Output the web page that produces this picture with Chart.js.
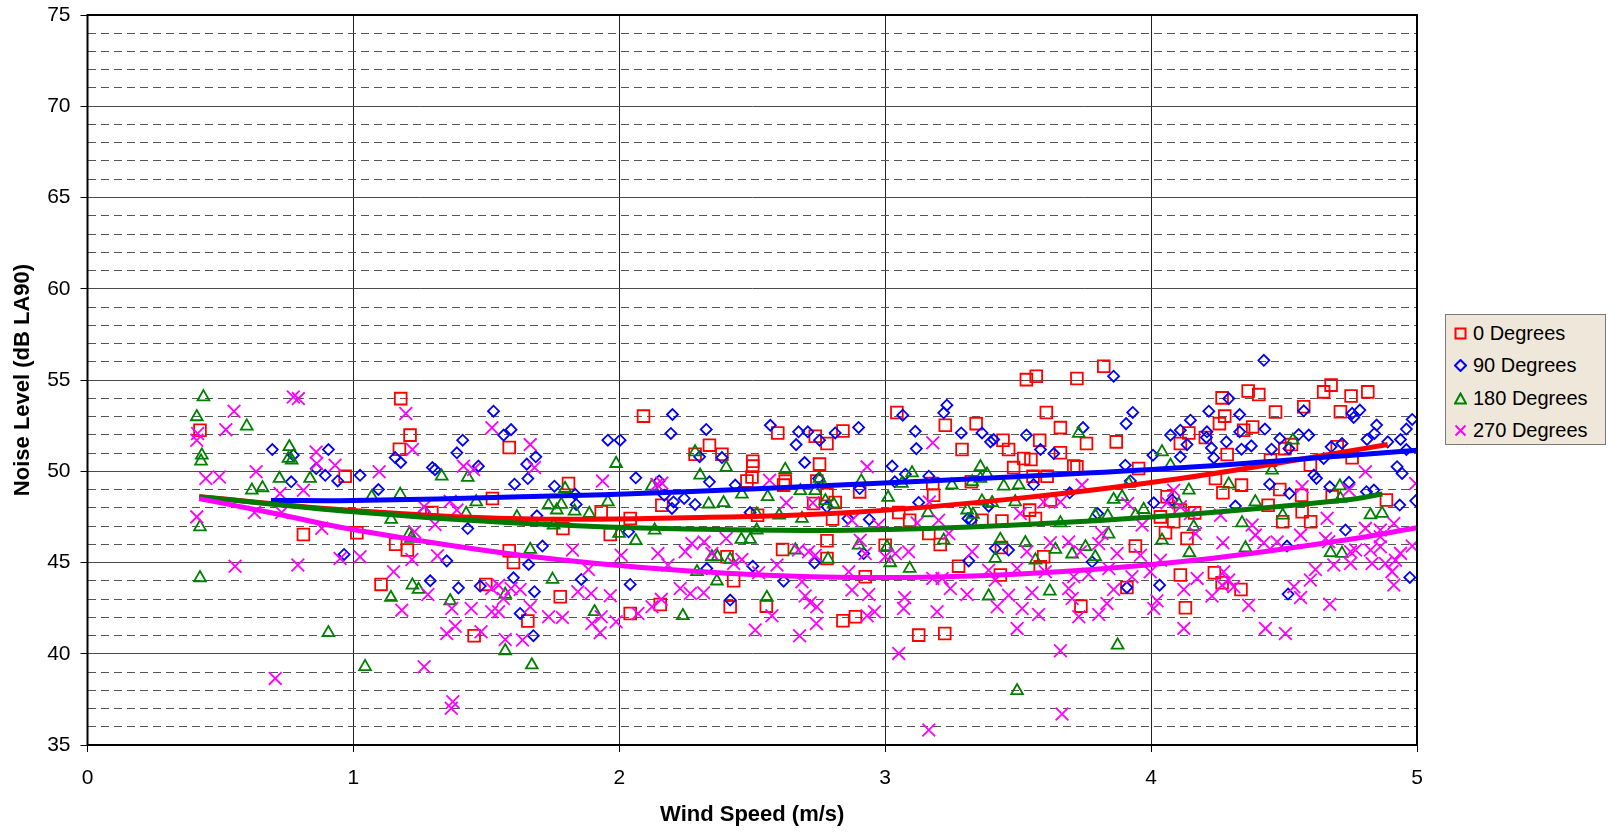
<!DOCTYPE html>
<html>
<head>
<meta charset="utf-8">
<title>Noise Level vs Wind Speed</title>
<script src="https://cdn.jsdelivr.net/npm/chart.js@4.4.1/dist/chart.umd.min.js"></script>
<style>
    html, body { margin: 0; padding: 0; background: #fff; }
    #wrap { position: relative; width: 1614px; height: 833px; }
    #legend {
        position: absolute; left: 1445px; top: 314px; width: 161px; height: 131px;
        box-sizing: border-box; background: #EEE7DA; border: 1px solid #7a7a7a;
        padding-top: 2px; font-family: "Liberation Sans", Arial, sans-serif; font-size: 20px; color: #000;
    }
    #legend .row { height: 32.5px; display: flex; align-items: center; }
    #legend svg { margin-left: 8px; margin-right: 6px; flex: none; }
</style>
</head>
<body>
<div id="wrap">
    <canvas id="noiseChart" width="1614" height="833"></canvas>
    <div id="legend"></div>
</div>
<script>
// Measured points [wind speed m/s, dB LA90] per wind direction
const deg0 = [
    [0.423,52.25],[0.969,49.73],[0.812,46.53],
    [1.178,53.98],[1.213,51.98],[1.173,51.21],[1.586,51.3],[1.523,48.51],[1.295,47.74],[1.013,46.63],[1.159,46.0],[1.203,45.68],[1.586,45.64],[1.602,45.0],[1.104,43.8],[1.498,43.8],[1.454,40.99],
    [2.091,53.02],[1.809,49.33],[1.932,47.78],[2.041,47.41],[2.16,48.14],[1.788,46.86],[1.966,46.53],[1.778,43.12],[1.656,41.79],[2.041,42.21],[2.154,42.7],
    [2.339,51.43],[2.386,50.93],[2.285,50.93],[2.596,52.1],[2.737,51.92],[2.781,51.52],[2.841,52.21],[2.502,50.55],[2.502,50.28],[2.499,49.69],[2.48,49.47],[2.624,49.46],[2.618,49.24],[2.753,50.39],[2.743,49.46],[2.781,48.73],[2.812,48.29],[2.731,48.23],[2.802,47.38],[2.52,47.59],[2.781,46.19],[2.614,45.71],[2.405,45.31],[2.781,45.22],[2.43,44.0],[2.417,42.57],[2.553,42.61],[2.841,41.81],
    [3.044,53.22],[3.226,52.52],[3.342,52.61],[3.443,51.7],[3.464,51.19],[3.289,51.19],[3.179,49.33],[3.182,48.69],[3.324,49.42],[2.904,48.87],[3.051,47.74],[3.092,47.32],[3.164,46.59],[3.364,47.32],[3.439,47.27],[3.207,45.99],[3.0,45.95],[3.437,45.82],[3.276,44.8],[2.925,44.22],[3.433,44.31],[2.888,42.03],[3.126,41.02],[3.224,41.11],
    [3.531,55.02],[3.568,55.21],[3.721,55.08],[3.822,55.75],[3.606,53.22],[3.659,52.39],[3.581,51.7],[3.757,51.52],[3.869,51.61],[3.521,50.7],[3.548,50.64],[3.659,51.01],[3.709,50.28],[3.721,50.24],[3.483,50.2],[3.556,49.73],[3.609,49.73],[3.953,50.15],[3.621,48.42],[3.543,47.87],[3.565,47.41],[4.06,48.6],[4.035,47.5],[4.085,47.23],[4.054,46.63],[3.941,45.9],[3.596,45.31],[3.583,44.76],[3.909,43.63],[3.736,42.61],
    [4.267,54.02],[4.365,54.4],[4.405,54.2],[4.277,53.02],[4.257,52.61],[4.468,53.25],[4.574,53.53],[4.142,52.1],[4.11,51.52],[4.204,51.85],[4.348,52.25],[4.382,52.43],[4.286,50.92],[4.449,50.61],[4.503,51.24],[4.528,51.46],[4.242,49.6],[4.27,48.82],[4.34,49.24],[4.484,49.0],[4.566,48.69],[4.11,47.87],[4.164,47.72],[4.44,48.14],[4.495,47.23],[4.568,47.78],[4.6,47.23],[4.135,46.32],[4.11,44.31],[4.238,44.44],[4.267,43.89],[4.338,43.52],[4.129,42.52],
    [4.649,54.35],[4.677,54.72],[4.752,54.12],[4.815,54.35],[4.712,53.26],[4.7,51.34],[4.756,50.74],[4.599,50.34],[4.681,48.6],[4.885,48.42]
];
const deg90 = [
    [0.695,51.19],[0.906,51.19],[0.774,50.88],[0.86,50.15],[0.894,49.78],[0.941,49.47],[0.766,49.42],[0.965,45.44],
    [1.527,53.29],[1.565,51.98],[1.593,52.28],[1.411,51.7],[1.389,51.01],[1.157,50.75],[1.178,50.48],[1.297,50.2],[1.307,50.09],[1.47,50.28],[1.025,49.78],[1.094,49.0],[1.606,49.29],[1.266,47.78],[1.43,46.86],[1.351,45.09],[1.289,44.0],[1.395,43.61],[1.477,43.71],[1.602,44.16],
    [2.2,53.11],[2.194,52.07],[1.957,51.7],[2.003,51.7],[1.686,50.79],[1.652,50.39],[1.656,49.6],[1.756,49.18],[2.062,49.64],[2.15,49.47],[1.834,48.74],[1.838,48.18],[2.169,48.69],[2.204,48.32],[2.198,47.96],[1.69,47.56],[2.035,46.68],[1.711,45.9],[1.659,44.89],[1.857,44.07],[2.041,43.8],[1.681,43.4],[1.627,42.21],[1.677,40.99],
    [2.327,52.29],[2.568,52.52],[2.674,52.16],[2.709,52.16],[2.812,52.1],[2.665,51.46],[2.753,51.7],[2.302,50.79],[2.386,50.75],[2.697,50.48],[2.339,49.42],[2.436,49.24],[2.244,48.51],[2.285,48.18],[2.492,47.74],[2.749,49.6],[2.781,48.05],[2.329,44.67],[2.502,44.8],[2.734,44.98],[2.618,43.98],[2.417,42.94],
    [3.232,53.62],[3.22,53.2],[3.066,53.07],[2.9,52.4],[3.113,52.19],[3.117,51.24],[3.286,52.1],[3.364,52.1],[3.396,51.61],[3.408,51.74],[3.026,50.28],[3.076,49.84],[3.036,49.42],[3.164,49.73],[2.904,49.05],[3.126,48.29],[3.389,48.09],[3.311,47.41],[3.324,47.32],[2.94,47.36],[2.86,47.41],[3.414,45.77],[2.919,45.49],[3.464,45.68],[3.314,45.09],
    [3.859,55.21],[3.931,53.22],[3.906,52.61],[3.531,51.98],[3.744,52.39],[3.584,51.19],[3.634,50.97],[4.073,51.98],[4.007,50.88],[3.903,50.33],[3.558,49.27],[3.694,48.82],[3.922,49.47],[4.01,48.27],[4.079,48.42],[3.799,47.68],[3.778,45.04],[3.909,43.63],[4.032,43.76],
    [4.424,56.08],[4.292,53.98],[4.217,53.29],[4.148,52.8],[4.333,53.11],[4.574,53.31],[4.11,52.25],[4.21,52.16],[4.135,51.46],[4.208,51.85],[4.227,51.28],[4.283,51.61],[4.333,52.16],[4.377,51.39],[4.34,51.21],[4.428,52.31],[4.484,51.79],[4.453,51.21],[4.555,52.01],[4.593,51.98],[4.518,51.24],[4.11,50.79],[4.236,50.73],[4.446,49.29],[4.52,48.78],[4.317,48.09],[4.511,45.9],[4.515,43.27],
    [4.756,53.17],[4.762,52.95],[4.785,53.35],[4.848,52.53],[4.812,51.74],[4.84,52.07],[4.89,51.61],[4.938,51.74],[4.96,52.31],[4.982,52.84],[4.96,51.19],[4.649,50.7],[4.677,51.34],[4.718,51.52],[4.612,49.79],[4.622,49.61],[4.672,49.15],[4.744,49.39],[4.81,48.88],[4.838,48.97],[4.925,50.25],[4.944,49.88],[4.935,48.15],[4.995,48.38],[4.731,46.78],[4.973,44.18]
];
const deg180 = [
    [0.436,54.07],[0.411,52.98],[0.599,52.47],[0.43,50.88],[0.427,50.55],[0.759,51.34],[0.756,50.7],[0.768,50.6],[0.722,49.6],[0.837,49.6],[0.618,48.96],[0.658,49.09],[0.423,46.95],[0.423,44.16],[0.906,41.15],
    [1.332,49.73],[1.43,49.66],[1.069,48.6],[1.176,48.73],[1.462,48.32],[1.142,47.36],[1.424,47.68],[1.211,46.59],[1.217,46.32],[1.615,47.5],[1.222,43.76],[1.245,43.52],[1.141,43.08],[1.364,42.9],[1.571,43.25],[1.571,40.16],[1.044,39.29],
    [1.988,50.42],[1.796,49.05],[2.123,49.18],[1.734,48.14],[1.782,48.18],[1.765,47.87],[1.832,47.81],[1.887,47.68],[1.957,48.32],[1.753,47.05],[1.999,46.59],[2.062,46.19],[2.133,46.77],[1.665,45.71],[1.749,44.07],[1.907,42.3],[1.671,39.38],
    [2.285,51.06],[2.304,49.78],[2.402,50.2],[2.624,50.09],[2.753,49.6],[2.461,48.74],[2.558,48.6],[2.681,48.93],[2.737,48.93],[2.336,48.2],[2.392,48.27],[2.775,48.38],[2.806,48.2],[2.517,47.65],[2.601,47.59],[2.687,47.41],[2.517,46.77],[2.459,46.26],[2.492,46.26],[2.348,45.31],[2.369,45.31],[2.417,45.17],[2.662,45.68],[2.785,45.18],[2.292,44.49],[2.367,43.98],[2.555,43.08],[2.239,42.08],
    [3.358,50.24],[3.383,49.84],[3.101,49.91],[2.91,49.46],[3.063,49.33],[3.251,49.24],[3.327,49.42],[3.358,49.6],[3.446,49.18],[3.011,48.56],[3.364,48.36],[3.402,48.27],[3.308,47.87],[3.161,47.72],[3.33,47.63],[2.9,45.95],[3.433,46.26],[3.22,46.22],[3.007,45.86],[3.019,44.98],[3.092,44.67],[3.414,45.22],[3.389,43.16],
    [3.728,52.07],[4.041,51.06],[4.073,50.33],[3.502,49.24],[3.916,49.33],[3.489,48.32],[3.859,48.45],[3.891,48.6],[3.659,47.17],[3.79,47.59],[3.837,47.56],[3.941,47.59],[3.972,47.9],[3.84,46.55],[4.041,46.22],[3.527,46.08],[3.64,45.71],[3.703,45.46],[3.753,45.86],[3.79,45.31],[3.565,45.13],[3.619,43.43],[3.874,40.47],[3.496,37.97],
    [4.533,51.7],[4.455,50.06],[4.142,48.96],[4.292,49.29],[4.392,48.32],[4.104,48.2],[4.342,47.17],[4.495,47.59],[4.16,46.96],[4.355,45.8],[4.144,45.53],
    [4.71,49.19],[4.712,48.51],[4.825,47.6],[4.869,47.69],[4.675,45.54],[4.718,45.5]
];
const deg270 = [
    [0.774,54.07],[0.793,53.98],[0.551,53.29],[0.52,52.28],[0.414,52.07],[0.411,51.7],[0.445,49.6],[0.496,49.69],[0.634,49.97],[0.86,51.06],[0.862,50.42],[0.931,50.33],[0.812,48.96],[0.724,48.78],[0.628,47.74],[0.73,47.74],[0.411,47.5],[0.881,46.87],[0.555,44.8],[0.791,44.86],[0.95,45.22],[0.706,38.65],
    [1.197,53.16],[1.521,52.38],[1.222,51.19],[1.097,49.97],[1.414,50.28],[1.452,50.09],[1.364,48.36],[1.266,48.05],[1.389,47.87],[1.307,47.08],[1.23,46.68],[1.025,45.31],[1.22,45.17],[1.316,45.37],[1.151,44.49],[1.28,43.25],[1.182,42.39],[1.37,42.48],[1.443,42.48],[1.52,43.58],[1.546,43.76],[1.564,43.03],[1.593,43.58],[1.52,42.3],[1.546,42.3],[1.351,41.11],[1.383,41.51],[1.48,41.2],[1.571,40.78],[1.266,39.29],[1.374,37.37],[1.368,37.01],
    [1.665,51.46],[1.681,50.2],[1.937,49.46],[2.141,49.27],[2.16,49.36],[1.824,45.68],[2.007,45.4],[2.145,45.49],[2.183,44.86],[1.884,44.62],[1.627,43.52],[1.844,43.4],[1.894,43.3],[1.966,43.18],[2.229,43.58],[1.665,42.57],[1.734,42.03],[1.786,41.99],[1.897,41.66],[1.932,42.03],[1.928,41.15],[1.988,41.75],[2.07,42.21],[2.123,42.57],[2.158,42.98],[1.636,40.75],
    [2.565,49.51],[2.628,48.27],[2.728,48.27],[2.273,46.04],[2.319,46.13],[2.248,45.59],[2.402,46.32],[2.348,45.49],[2.461,45.17],[2.43,44.95],[2.524,44.44],[2.593,44.86],[2.674,45.68],[2.712,45.59],[2.737,45.4],[2.687,43.94],[2.699,43.16],[2.718,42.79],[2.743,42.57],[2.574,42.08],[2.741,41.66],[2.511,41.3],[2.678,40.99],[2.267,43.3],[2.317,43.34],
    [2.932,50.24],[3.179,51.56],[3.166,48.32],[3.12,47.17],[3.201,47.32],[3.239,46.59],[2.875,47.32],[2.975,47.05],[2.906,46.22],[2.925,45.49],[3.038,45.49],[3.088,45.59],[3.0,45.31],[3.327,45.59],[2.863,44.49],[2.875,43.49],[2.938,43.25],[3.179,44.13],[3.214,44.13],[3.245,43.58],[3.308,43.25],[3.389,44.58],[3.414,44.04],[3.464,43.21],[3.073,43.08],[3.069,42.48],[3.195,42.3],[3.421,42.57],[2.932,42.08],[2.96,42.3],[3.051,40.02],[3.164,35.82],
    [3.74,49.24],[3.596,48.32],[3.659,48.32],[3.912,48.23],[3.508,47.68],[4.06,48.27],[4.085,48.96],[3.966,47.05],[3.815,46.59],[3.621,46.08],[3.69,46.13],[3.533,45.59],[3.734,45.59],[3.803,46.04],[3.872,45.49],[3.96,45.4],[4.035,45.13],[3.496,44.67],[3.602,44.49],[3.709,44.22],[3.765,44.36],[3.841,44.67],[3.928,44.22],[3.997,44.49],[3.552,43.34],[3.69,43.58],[3.703,43.03],[3.859,43.52],[3.834,42.76],[4.022,42.9],[4.01,42.48],[3.515,42.48],[3.577,42.15],[3.728,42.03],[3.803,42.15],[3.496,41.39],[3.659,40.16],[3.665,36.7],
    [4.568,49.15],[4.11,48.05],[4.261,47.59],[4.148,47.68],[4.38,47.05],[4.392,46.5],[4.562,46.5],[4.167,46.59],[4.27,46.08],[4.424,46.08],[4.474,46.13],[4.173,44.13],[4.123,43.52],[4.229,43.16],[4.273,44.49],[4.292,44.04],[4.311,43.67],[4.267,43.76],[4.367,42.66],[4.537,43.67],[4.562,43.08],[4.123,41.39],[4.43,41.39],[4.505,41.11],
    [4.806,49.97],[4.995,49.33],[4.744,48.97],[4.662,47.42],[4.806,46.87],[4.913,47.14],[4.656,46.32],[4.668,46.14],[4.862,46.78],[4.862,46.41],[4.75,45.59],[4.769,45.68],[4.825,45.68],[4.862,45.86],[4.982,45.9],[4.938,45.5],[4.687,44.86],[4.75,44.95],[4.831,44.95],[4.881,44.95],[4.919,45.13],[4.906,44.5],[4.618,44.62],[4.599,44.04],[4.913,43.77],[4.672,42.71]
];

// Polynomial trend curves, sampled along each fitted line
const trend0 = [[0.42,48.6],[1.0,47.85],[1.63,47.4],[2.25,47.45],[2.87,47.74],[3.49,48.5],[4.11,49.6],[4.73,51.07],[4.89,51.47]];
const trend90 = [[0.69,48.4],[1.0,48.4],[1.63,48.6],[2.25,48.87],[2.87,49.28],[3.49,49.7],[4.11,50.19],[4.73,50.85],[5.0,51.15]];
const trend180 = [[0.42,48.6],[1.0,47.78],[1.63,47.15],[2.25,46.83],[2.87,46.77],[3.49,47.05],[4.11,47.6],[4.73,48.42],[4.87,48.75]];
const trend270 = [[0.42,48.5],[0.7,47.7],[1.0,46.8],[1.63,45.4],[2.25,44.55],[2.87,44.18],[3.49,44.36],[4.11,45.04],[4.73,46.23],[5.0,46.9]];

const seriesNames = ['0 Degrees', '90 Degrees', '180 Degrees', '270 Degrees'];
const xTicks = [0, 1, 2, 3, 4, 5];
const yMajorTicks = [35, 40, 45, 50, 55, 60, 65, 70, 75];

const FONT = '"Liberation Sans", Arial, sans-serif';
const toXY = arr => arr.map(p => ({ x: p[0], y: p[1] }));

function scatterSet(label, data, color, style, radius, order) {
    return {
        type: 'scatter',
        label: label,
        data: toXY(data),
        pointStyle: style,
        pointRadius: radius,
        pointHoverRadius: radius,
        pointBorderColor: color,
        pointBackgroundColor: 'transparent',
        pointBorderWidth: 1.8,
        order: order
    };
}

function trendSet(data, color, order) {
    return {
        type: 'line',
        data: toXY(data),
        borderColor: color,
        borderWidth: 5,
        tension: 0.4,
        pointRadius: 0,
        fill: false,
        order: order
    };
}

// Black frame round the plot area
const framePlugin = {
    id: 'plotFrame',
    afterDraw(chart) {
        const { ctx, chartArea: a } = chart;
        ctx.save();
        ctx.strokeStyle = '#000';
        ctx.lineWidth = 2;
        ctx.strokeRect(a.left, a.top, a.right - a.left, a.bottom - a.top);
        ctx.restore();
    }
};

const isMajor = v => yMajorTicks.includes(v);

new Chart(document.getElementById('noiseChart'), {
    data: {
        datasets: [
            trendSet(trend270, '#FF00FF', 1),
            trendSet(trend180, '#007A00', 2),
            trendSet(trend90, '#0000FF', 3),
            trendSet(trend0, '#FF0000', 4),
            scatterSet(seriesNames[3], deg270, '#FF00FF', 'crossRot', 9, 5),
            scatterSet(seriesNames[2], deg180, '#008000', 'triangle', 6.8, 6),
            scatterSet(seriesNames[1], deg90, '#0000FF', 'rectRot', 5.5, 7),
            scatterSet(seriesNames[0], deg0, '#FF0000', 'rect', 8.3, 8)
        ]
    },
    options: {
        responsive: false,
        animation: false,
        layout: { padding: { top: 15, right: 197, bottom: 0, left: 0 } },
        plugins: {
            legend: { display: false },
            tooltip: { enabled: false }
        },
        scales: {
            x: {
                type: 'linear',
                min: 0,
                max: 5,
                afterBuildTicks: s => { s.ticks = xTicks.map(v => ({ value: v })); },
                afterFit: s => { s.height = 88; },
                ticks: { font: { family: FONT, size: 21 }, color: '#000', padding: 14 },
                grid: { color: '#222', lineWidth: 1, tickLength: 7, tickColor: '#000' },
                border: { display: false },
                title: {
                    display: true,
                    text: 'Wind Speed (m/s)',
                    color: '#000',
                    font: { family: FONT, size: 22, weight: 'bold' },
                    padding: { top: 0, bottom: 5 }
                }
            },
            y: {
                type: 'linear',
                min: 35,
                max: 75,
                ticks: {
                    stepSize: 1,
                    autoSkip: false,
                    font: { family: FONT, size: 21 },
                    color: '#000',
                    padding: 10,
                    callback: v => (isMajor(v) ? v : '')
                },
                afterFit: s => {
                    s.width = 87.5;
                    s.paddingTop = 0;
                    s.paddingBottom = 0;
                },
                grid: {
                    color: c => (c.tick && isMajor(c.tick.value) ? '#4a4a4a' : '#555'),
                    lineWidth: 1,
                    tickLength: 7,
                    tickColor: c => (c.tick && isMajor(c.tick.value) ? '#000' : 'rgba(0,0,0,0)')
                },
                border: {
                    display: false,
                    dash: c => (c.tick && !isMajor(c.tick.value) ? [8, 5] : [])
                },
                title: {
                    display: true,
                    text: 'Noise Level (dB LA90)',
                    color: '#000',
                    font: { family: FONT, size: 22, weight: 'bold' },
                    padding: { top: 10, bottom: 0 }
                }
            }
        }
    },
    plugins: [framePlugin]
});

// Legend box at the right of the plot
const legendMarks = [
    '<rect x="1.5" y="1.5" width="10" height="10" fill="none" stroke="#FF0000" stroke-width="2"/>',
    '<path d="M6.5 1 L12 6.5 L6.5 12 L1 6.5 Z" fill="none" stroke="#0000FF" stroke-width="2"/>',
    '<path d="M6.5 1.5 L12 11.5 L1 11.5 Z" fill="none" stroke="#008000" stroke-width="2"/>',
    '<path d="M1.5 1.5 L11.5 11.5 M11.5 1.5 L1.5 11.5" stroke="#FF00FF" stroke-width="2"/>'
];
document.getElementById('legend').innerHTML = seriesNames.map((name, i) =>
    '<div class="row"><svg width="13" height="13" viewBox="0 0 13 13">' + legendMarks[i] + '</svg><span>' + name + '</span></div>'
).join('');
</script>
</body>
</html>
